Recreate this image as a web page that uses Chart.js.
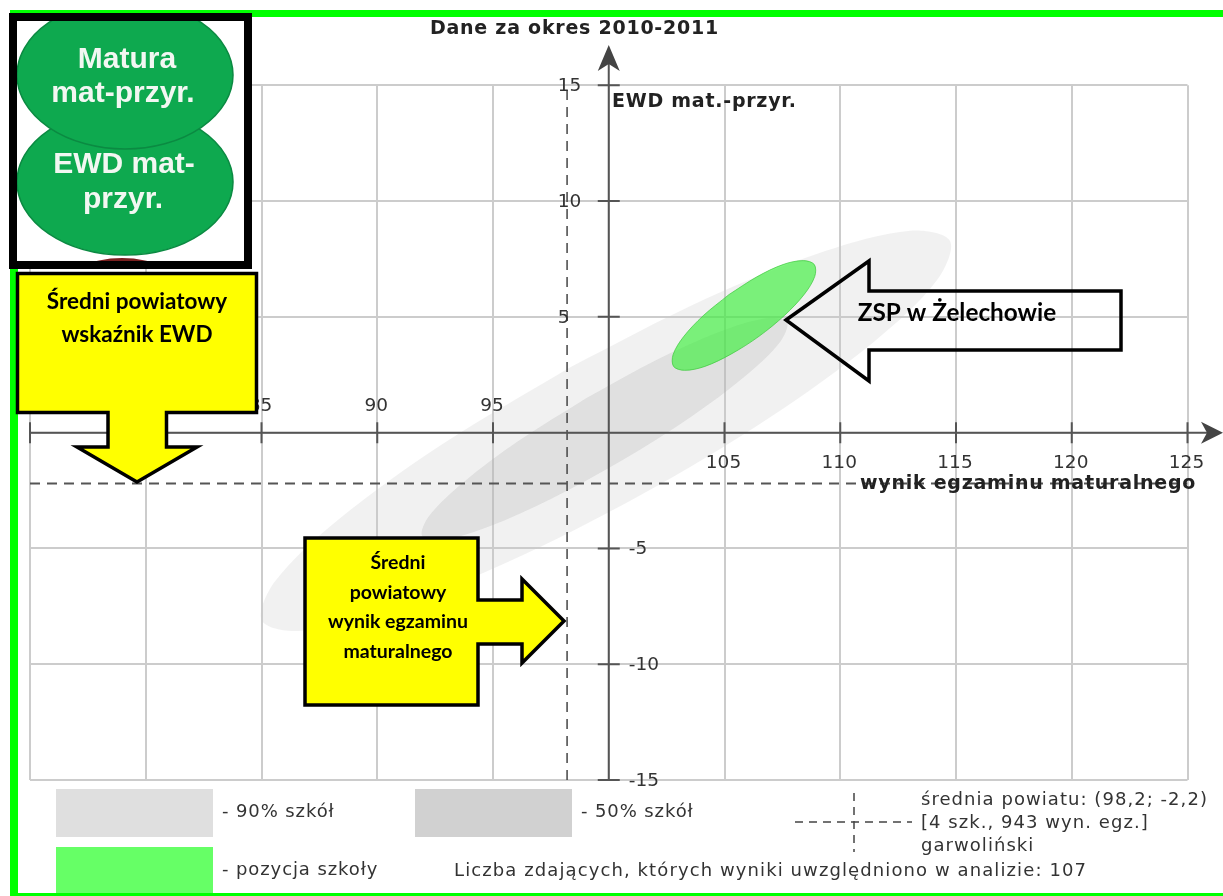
<!DOCTYPE html>
<html lang="pl">
<head>
<meta charset="utf-8">
<title>Dane za okres 2010-2011</title>
<script src="https://cdn.jsdelivr.net/npm/chart.js@4"></script>
<style>
html, body { margin: 0; padding: 0; background: #fff; }
canvas { display: block; }
</style>
</head>
<body>
<canvas id="wykres" width="1223" height="896"></canvas>
<script>
// dane
const xTicks = [75, 80, 85, 90, 95, 105, 110, 115, 120, 125];
const yTicks = [15, 10, 5, -5, -10, -15];

const meanX = 98.2;
const meanY = -2.2;

const outerX = [98.36, 92.79, 88.30, 85.57, 85.02, 86.73, 90.44, 95.59, 101.40, 106.97, 111.46, 114.19, 114.74, 113.03, 109.32, 104.17];
const outerY = [2.84, -0.51, -3.77, -6.44, -8.12, -8.56, -7.67, -5.61, -2.68, 0.67, 3.93, 6.60, 8.28, 8.72, 7.83, 5.77];

const innerX = [99.04, 96.08, 93.70, 92.24, 91.94, 92.84, 94.80, 97.52, 100.60, 103.56, 105.94, 107.40, 107.70, 106.80, 104.84, 102.12];
const innerY = [1.50, -0.37, -2.16, -3.60, -4.46, -4.62, -4.06, -2.85, -1.18, 0.69, 2.48, 3.92, 4.78, 4.94, 4.38, 3.17];

const schoolX = [105.19, 104.08, 103.23, 102.78, 102.80, 103.28, 104.15, 105.28, 106.49, 107.60, 108.45, 108.90, 108.88, 108.40, 107.53, 106.40];
const schoolY = [5.96, 5.05, 4.14, 3.37, 2.86, 2.69, 2.86, 3.39, 4.16, 5.07, 5.98, 6.75, 7.26, 7.43, 7.26, 6.73];

function shape(xs, ys) {
    const pts = xs.map((x, i) => ({ x: x, y: ys[i] }));
    pts.push(pts[0]);
    return pts;
}

function text(ctx, str, x, y, font, color, align, spacing) {
    ctx.font = font;
    ctx.fillStyle = color;
    ctx.textAlign = align || 'left';
    ctx.textBaseline = 'middle';
    ctx.letterSpacing = spacing || '0px';
    ctx.fillText(str, x, y);
    ctx.letterSpacing = '0px';
}

function poly(ctx, pts, fill, stroke, width) {
    ctx.beginPath();
    pts.forEach((p, i) => i ? ctx.lineTo(p[0], p[1]) : ctx.moveTo(p[0], p[1]));
    ctx.closePath();
    if (fill) { ctx.fillStyle = fill; ctx.fill(); }
    ctx.strokeStyle = stroke;
    ctx.lineWidth = width;
    ctx.lineJoin = 'miter';
    ctx.stroke();
}

function oval(ctx, y, ry, color) {
    ctx.beginPath();
    ctx.ellipse(125, y, 108, ry, 0, 0, Math.PI * 2);
    ctx.fillStyle = color;
    ctx.fill();
    ctx.strokeStyle = '#0b8a42';
    ctx.lineWidth = 1.5;
    ctx.stroke();
}

// osie przez srodek wykresu, podpisy po dwoch stronach
const axesPlugin = {
    id: 'axes',
    afterDatasetsDraw(chart) {
        const ctx = chart.ctx;
        const sx = chart.scales.x;
        const sy = chart.scales.y;
        const x0 = sx.getPixelForValue(100);
        const y0 = sy.getPixelForValue(0);
        const axis = '#555';
        const font = '18.5px "DejaVu Sans"';
        ctx.save();
        ctx.strokeStyle = axis;
        ctx.lineWidth = 2;
        ctx.beginPath();
        ctx.moveTo(sx.left, y0); ctx.lineTo(1210, y0);
        ctx.moveTo(x0, sy.bottom); ctx.lineTo(x0, 60);
        xTicks.forEach(v => {
            const p = sx.getPixelForValue(v);
            ctx.moveTo(p, y0 - 10.5); ctx.lineTo(p, y0 + 10.5);
        });
        yTicks.forEach(v => {
            const p = sy.getPixelForValue(v);
            ctx.moveTo(x0 - 11, p); ctx.lineTo(x0 + 11, p);
        });
        ctx.stroke();

        // groty strzalek
        ctx.fillStyle = '#444';
        ctx.beginPath();
        ctx.moveTo(1223, y0); ctx.lineTo(1201, y0 - 11); ctx.lineTo(1207, y0); ctx.lineTo(1201, y0 + 11);
        ctx.closePath();
        ctx.fill();
        ctx.beginPath();
        ctx.moveTo(x0, 45); ctx.lineTo(x0 - 11, 71); ctx.lineTo(x0, 64); ctx.lineTo(x0 + 11, 71);
        ctx.closePath();
        ctx.fill();

        xTicks.forEach(v => {
            const p = sx.getPixelForValue(v);
            text(ctx, String(v), p - 1, v < 100 ? y0 - 26 : y0 + 31, font, '#333', 'center');
        });
        yTicks.forEach(v => {
            const p = sy.getPixelForValue(v);
            text(ctx, String(v), v > 0 ? x0 - 51 : x0 + 20, p + 1, font, '#333', 'left');
        });

        const bold = 'bold 19px "DejaVu Sans"';
        text(ctx, 'Dane za okres 2010-2011', 430, 29, bold, '#222', 'left', '0.75px');
        text(ctx, 'EWD mat.-przyr.', 612, 102, bold, '#222', 'left', '0.75px');
        text(ctx, 'wynik egzaminu maturalnego', 860, 484, bold, '#222', 'left', '0.75px');
        ctx.restore();
    }
};

const overlayPlugin = {
    id: 'overlay',
    afterDraw(chart) {
        const ctx = chart.ctx;
        ctx.save();

        // ramka zielona
        ctx.fillStyle = '#00ff00';
        ctx.fillRect(10, 10, 1213, 7);
        ctx.fillRect(10, 10, 8, 886);
        ctx.fillRect(10, 893, 1213, 3);

        // legenda
        ctx.fillStyle = '#dfdfdf';
        ctx.fillRect(56, 789, 157, 48);
        ctx.fillStyle = '#d1d1d1';
        ctx.fillRect(415, 789, 157, 48);
        ctx.fillStyle = '#66ff66';
        ctx.fillRect(56, 847, 157, 46);
        const small = '18px "DejaVu Sans"';
        text(ctx, '- 90% szkół', 222, 812, small, '#333', 'left', '0.9px');
        text(ctx, '- 50% szkół', 581, 812, small, '#333', 'left', '0.9px');
        text(ctx, '- pozycja szkoły', 222, 870, small, '#333', 'left', '0.9px');
        text(ctx, 'Liczba zdających, których wyniki uwzględniono w analizie: 107', 454, 871, small, '#333', 'left', '1.1px');
        text(ctx, 'średnia powiatu: (98,2; -2,2)', 921, 800, small, '#333', 'left', '1.05px');
        text(ctx, '[4 szk., 943 wyn. egz.]', 921, 823, small, '#333', 'left', '1.05px');
        text(ctx, 'garwoliński', 921, 846, small, '#333', 'left', '1.05px');
        ctx.strokeStyle = '#444';
        ctx.lineWidth = 1.5;
        ctx.setLineDash([8, 6]);
        ctx.beginPath();
        ctx.moveTo(795, 822); ctx.lineTo(912, 822);
        ctx.moveTo(854, 793); ctx.lineTo(854, 852);
        ctx.stroke();
        ctx.setLineDash([]);

        // logo z owalami
        ctx.fillStyle = '#fff';
        ctx.fillRect(13, 17, 235, 248);
        ctx.save();
        ctx.beginPath();
        ctx.rect(17, 21, 227, 240);
        ctx.clip();
        ctx.beginPath();
        ctx.ellipse(122, 290, 60, 32, 0, 0, Math.PI * 2);
        ctx.fillStyle = '#7a1f1f';
        ctx.fill();
        oval(ctx, 182, 73, '#0ea94f');
        oval(ctx, 75, 74, '#0ea94f');
        ctx.restore();
        ctx.strokeStyle = '#000';
        ctx.lineWidth = 8;
        ctx.strokeRect(13, 17, 235, 248);
        const logo = 'bold 30px "Liberation Sans"';
        text(ctx, 'Matura', 127, 60, logo, '#f2f7f2', 'center');
        text(ctx, 'mat-przyr.', 123, 94, logo, '#f2f7f2', 'center');
        text(ctx, 'EWD mat-', 124, 165, logo, '#f2f7f2', 'center');
        text(ctx, 'przyr.', 123, 200, logo, '#f2f7f2', 'center');

        // strzalki z opisami
        poly(ctx, [[17.5, 273.5], [256.5, 273.5], [256.5, 412.5], [166.5, 412.5], [166.5, 447], [197, 447], [137, 482], [77, 447], [108, 447], [108, 412.5], [17.5, 412.5]], '#ffff00', '#000', 3.5);
        text(ctx, 'Średni powiatowy', 137, 302, 'bold 22.5px Lato', '#000', 'center');
        text(ctx, 'wskaźnik EWD', 137, 335, 'bold 22.5px Lato', '#000', 'center');

        poly(ctx, [[305, 538], [478, 538], [478, 600], [522, 600], [522, 579], [564, 621], [522, 663], [522, 644], [478, 644], [478, 705], [305, 705]], '#ffff00', '#000', 3.5);
        ['Średni', 'powiatowy', 'wynik egzaminu', 'maturalnego'].forEach((s, i) => {
            text(ctx, s, 398, 563 + i * 29.5, 'bold 19.5px Lato', '#000', 'center');
        });

        poly(ctx, [[786, 320], [869, 261], [869, 291], [1121, 291], [1121, 350], [869, 350], [869, 381]], null, '#000', 3.5);
        text(ctx, 'ZSP w Żelechowie', 957, 313, 'bold 24.3px Lato', '#000', 'center');
        ctx.restore();
    }
};

new Chart(document.getElementById('wykres'), {
    type: 'scatter',
    data: {
        datasets: [
            {
                label: '90% szkół',
                data: shape(outerX, outerY),
                showLine: true,
                tension: 0.33,
                fill: 'shape',
                backgroundColor: 'rgba(200,200,200,0.26)',
                borderWidth: 0,
                pointRadius: 0,
                order: 5
            },
            {
                label: '50% szkół',
                data: shape(innerX, innerY),
                showLine: true,
                tension: 0.33,
                fill: 'shape',
                backgroundColor: 'rgba(170,170,170,0.25)',
                borderWidth: 0,
                pointRadius: 0,
                order: 4
            },
            {
                label: 'pozycja szkoły',
                data: shape(schoolX, schoolY),
                showLine: true,
                tension: 0.33,
                fill: 'shape',
                backgroundColor: 'rgba(50,240,50,0.62)',
                borderColor: 'rgba(60,200,60,0.7)',
                borderWidth: 1,
                pointRadius: 0,
                order: 3
            },
            {
                label: 'średnia X',
                data: [{ x: meanX, y: -15 }, { x: meanX, y: 15 }],
                showLine: true,
                borderColor: '#444',
                borderWidth: 1.5,
                borderDash: [10, 7],
                pointRadius: 0,
                order: 2
            },
            {
                label: 'średnia Y',
                data: [{ x: 75, y: meanY }, { x: 125, y: meanY }],
                showLine: true,
                borderColor: '#555',
                borderWidth: 2,
                borderDash: [10, 7],
                pointRadius: 0,
                order: 1
            }
        ]
    },
    options: {
        responsive: false,
        animation: false,
        devicePixelRatio: 1,
        layout: { padding: { left: 30, right: 35.5, top: 85.3, bottom: 116 } },
        plugins: { legend: { display: false }, tooltip: { enabled: false } },
        scales: {
            x: {
                type: 'linear',
                position: 'bottom',
                min: 75,
                max: 125,
                ticks: { stepSize: 5, display: false, autoSkip: false },
                grid: { color: '#ccc', lineWidth: 2, drawTicks: false },
                border: { display: false }
            },
            y: {
                type: 'linear',
                position: 'left',
                min: -15,
                max: 15,
                ticks: { stepSize: 5, display: false, autoSkip: false },
                grid: { color: '#ccc', lineWidth: 2, drawTicks: false },
                border: { display: false }
            }
        }
    },
    plugins: [axesPlugin, overlayPlugin]
});
</script>
</body>
</html>
